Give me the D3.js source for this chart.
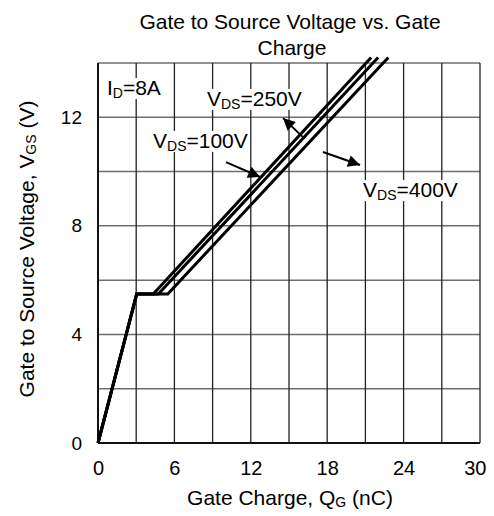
<!DOCTYPE html>
<html>
<head>
<meta charset="utf-8">
<script src="https://cdn.jsdelivr.net/npm/d3@7"></script>
<style>
  body { margin: 0; background: #fff; }
  svg { font-family: "Liberation Sans", Arial, sans-serif; }
</style>
</head>
<body>
<div id="chart"></div>
<script>
// Gate charge curves, ID = 8A
var qg100 = [0, 3.04, 4.34, 21.45];
var vgs100 = [0, 5.49, 5.49, 14.2];
var qg250 = [0, 3.04, 4.74, 22.0];
var vgs250 = [0, 5.49, 5.49, 14.2];
var qg400 = [0, 3.04, 5.48, 22.8];
var vgs400 = [0, 5.49, 5.49, 14.2];

var xGrid = [0, 3, 6, 9, 12, 15, 18, 21, 24, 27, 30];
var yGrid = [0, 2, 4, 6, 8, 10, 12, 14];
var xTicks = [0, 6, 12, 18, 24, 30];
var yTicks = [0, 4, 8, 12];

var svgWidth = 494;
var svgHeight = 516;
var margin = { top: 63, right: 14, bottom: 73, left: 98 };
var width = svgWidth - margin.left - margin.right;
var height = svgHeight - margin.top - margin.bottom;

var svg = d3.select("#chart")
  .append("svg")
  .attr("width", svgWidth)
  .attr("height", svgHeight);

var chartGroup = svg.append("g")
  .attr("transform", `translate(${margin.left}, ${margin.top})`);

var xScale = d3.scaleLinear().domain([0, 30]).range([0, width]);
var yScale = d3.scaleLinear().domain([0, 14]).range([height, 0]);

// grid
chartGroup.append("g")
  .selectAll("line")
  .data(yGrid)
  .enter()
  .append("line")
  .attr("x1", 0)
  .attr("x2", width)
  .attr("y1", d => yScale(d))
  .attr("y2", d => yScale(d))
  .attr("stroke", "#6e6e6e")
  .attr("stroke-width", 1.5);

chartGroup.append("g")
  .selectAll("line")
  .data(xGrid)
  .enter()
  .append("line")
  .attr("x1", d => xScale(d))
  .attr("x2", d => xScale(d))
  .attr("y1", 0)
  .attr("y2", height)
  .attr("stroke", "#222")
  .attr("stroke-width", 1.3);

// axes frame
chartGroup.append("line")
  .attr("x1", 0).attr("x2", width)
  .attr("y1", height).attr("y2", height)
  .attr("stroke", "#111").attr("stroke-width", 2);
chartGroup.append("line")
  .attr("x1", 0).attr("x2", 0)
  .attr("y1", 0).attr("y2", height)
  .attr("stroke", "#111").attr("stroke-width", 2);

var bottomAxis = d3.axisBottom(xScale).tickValues(xTicks).tickSize(0).tickPadding(18);
var leftAxis = d3.axisLeft(yScale).tickValues(yTicks).tickSize(0).tickPadding(16);

var xAxisGroup = chartGroup.append("g")
  .attr("transform", `translate(0, ${height})`)
  .call(bottomAxis);
var yAxisGroup = chartGroup.append("g").call(leftAxis);

xAxisGroup.select(".domain").remove();
yAxisGroup.select(".domain").remove();
xAxisGroup.selectAll("text")
  .attr("font-size", "20px")
  .attr("font-family", "Liberation Sans, Arial, sans-serif")
  .attr("fill", "#000");
yAxisGroup.selectAll("text")
  .attr("font-size", "19px")
  .attr("font-family", "Liberation Sans, Arial, sans-serif")
  .attr("fill", "#000");
xAxisGroup.selectAll("text").filter(d => d === 30).attr("text-anchor", "end").attr("dx", "6");

// curves
var line = d3.line()
  .x(d => xScale(d[0]))
  .y(d => yScale(d[1]));

var curves = [
  d3.zip(qg100, vgs100),
  d3.zip(qg250, vgs250),
  d3.zip(qg400, vgs400)
];

chartGroup.append("g")
  .selectAll("path")
  .data(curves)
  .enter()
  .append("path")
  .attr("d", line)
  .attr("fill", "none")
  .attr("stroke", "#000")
  .attr("stroke-width", 3)
  .attr("stroke-linejoin", "miter");

// annotations, positioned in data units
var labels = [
  { main: "I", sub: "D", rest: "=8A", q: 0.7, v: 12.82 },
  { main: "V", sub: "DS", rest: "=250V", q: 8.56, v: 12.42 },
  { main: "V", sub: "DS", rest: "=100V", q: 4.32, v: 10.87 },
  { main: "V", sub: "DS", rest: "=400V", q: 20.82, v: 9.06 }
];

labels.forEach(function(l) {
  var g = chartGroup.append("g");
  var bg = g.append("rect").attr("fill", "#fff");
  var t = g.append("text")
    .attr("x", xScale(l.q))
    .attr("y", yScale(l.v))
    .attr("font-size", "21px")
    .attr("fill", "#000");
  t.append("tspan").text(l.main);
  t.append("tspan").text(l.sub).attr("font-size", "14px").attr("dy", "3");
  t.append("tspan").text(l.rest).attr("dy", "-3");
  var b = t.node().getBBox();
  bg.attr("x", b.x - 1).attr("y", b.y + 2).attr("width", b.width + 2).attr("height", b.height - 4);
});

var arrows = [
  { q1: 10.05, v1: 10.35, q2: 12.73, v2: 9.8 },
  { q1: 16.1, v1: 11.27, q2: 14.53, v2: 11.97 },
  { q1: 17.67, v1: 10.72, q2: 20.58, v2: 10.24 }
];

svg.append("defs").append("marker")
  .attr("id", "head")
  .attr("viewBox", "0 0 10 10")
  .attr("refX", 10)
  .attr("refY", 5)
  .attr("markerWidth", 7)
  .attr("markerHeight", 6)
  .attr("markerUnits", "strokeWidth")
  .attr("orient", "auto")
  .append("path")
  .attr("d", "M0,0 L10,5 L0,10 Z")
  .attr("fill", "#000");

chartGroup.append("g")
  .selectAll("line")
  .data(arrows)
  .enter()
  .append("line")
  .attr("x1", d => xScale(d.q1))
  .attr("y1", d => yScale(d.v1))
  .attr("x2", d => xScale(d.q2))
  .attr("y2", d => yScale(d.v2))
  .attr("stroke", "#000")
  .attr("stroke-width", 2)
  .attr("marker-end", "url(#head)");

// titles
svg.append("text")
  .attr("x", 290).attr("y", 29)
  .attr("text-anchor", "middle")
  .attr("font-size", "21px")
  .text("Gate to Source Voltage vs. Gate");
svg.append("text")
  .attr("x", 292).attr("y", 55)
  .attr("text-anchor", "middle")
  .attr("font-size", "21px")
  .text("Charge");

var xLabel = svg.append("text")
  .attr("x", 290).attr("y", 505)
  .attr("text-anchor", "middle")
  .attr("font-size", "21px");
xLabel.append("tspan").text("Gate Charge, Q");
xLabel.append("tspan").text("G").attr("font-size", "14px").attr("dy", "2");
xLabel.append("tspan").text(" (nC)").attr("dy", "-2");

var yLabel = svg.append("text")
  .attr("transform", "translate(34, 249) rotate(-90)")
  .attr("text-anchor", "middle")
  .attr("font-size", "21px");
yLabel.append("tspan").text("Gate to Source Voltage, V");
yLabel.append("tspan").text("GS").attr("font-size", "14px").attr("dy", "2");
yLabel.append("tspan").text(" (V)").attr("dy", "-2");
</script>
</body>
</html>
